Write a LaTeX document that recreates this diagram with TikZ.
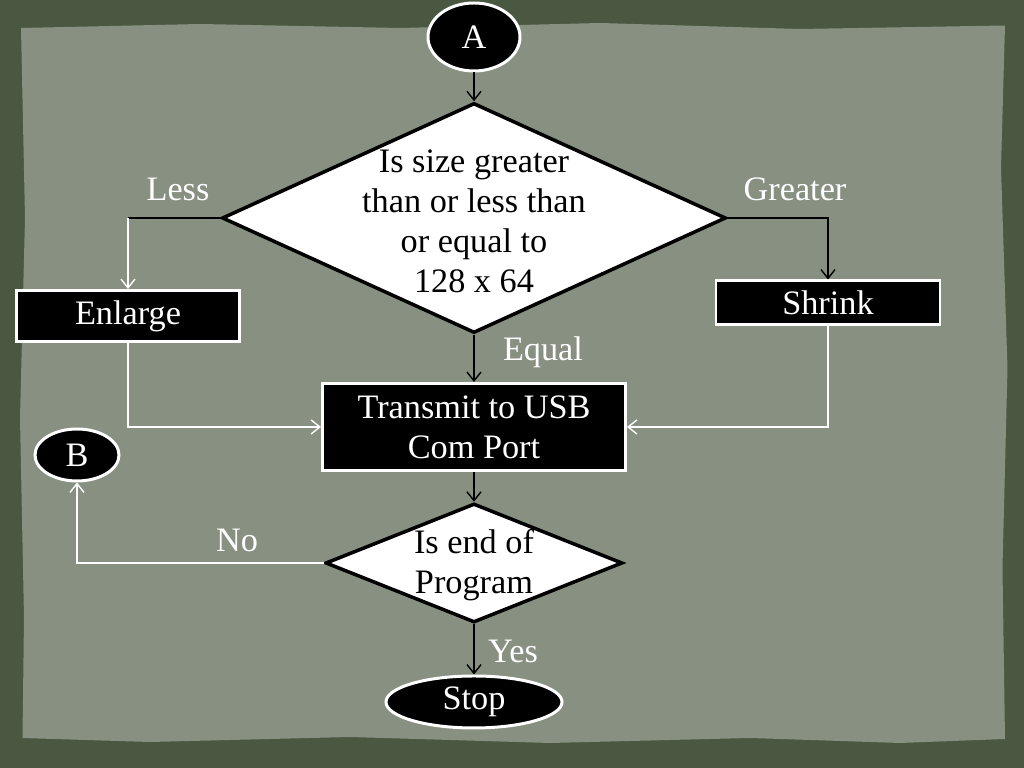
\documentclass[tikz,border=0pt]{standalone}
\usepackage{fontspec}
\setmainfont{Liberation Serif}
\usepackage{tikz}
\usetikzlibrary{shapes.geometric}
\usetikzlibrary{arrows.meta}
\definecolor{frame}{RGB}{74,88,66}
\definecolor{paper}{RGB}{136,144,130}
\tikzset{
	term node/.style={ellipse,draw=white,fill=black,line width=1.7pt,text=white,inner sep=0pt},
	proc node/.style={rectangle,draw=white,fill=black,line width=1.7pt,text=white,align=center},
	dec node/.style={diamond,draw=black,fill=white,line width=2pt,inner sep=0pt},
	dec text/.style={align=center,text=black},
	lbl/.style={text=white},
	wline/.style={draw=white,line width=0.8pt},
	bline/.style={draw=black,line width=0.8pt}
}

\begin{document}
\begin{tikzpicture}[>={Straight Barb[length=5pt,width=8pt]},
	    font=\fontsize{19.5}{22.8}\selectfont]
	    % background
	    \fill[frame] (0,0) rectangle (20.48,15.36);
	    \fill[paper] (0.45,0.6) -- (3,0.52) -- (7,0.62) -- (11,0.5) -- (15,0.6) -- (18,0.5) -- (20.1,0.58)
	      -- (20.05,4) -- (20.15,8) -- (20.02,12) -- (20.1,14.85) -- (16,14.78) -- (12,14.9) -- (8,14.8)
	      -- (4,14.88) -- (0.42,14.8) -- (0.5,11) -- (0.4,7) -- (0.48,3) -- cycle;
	    \useasboundingbox (0,0) rectangle (20.48,15.36);
	    % nodes
	    \node [term node,minimum width=1.84cm,minimum height=1.36cm] (A) at (9.48,14.62) {A};
	    \node [dec node,minimum width=10.08cm,minimum height=4.6cm] (size) at (9.48,11.00) {};
	    \node [dec text] (size text) at (9.48,10.94) {Is size greater\\than or less than\\or equal to\\128 x 64};
	    \node [proc node,minimum width=4.46cm,minimum height=1.02cm] (enlarge) at (2.56,9.04) {Enlarge};
	    \node [proc node,minimum width=4.48cm,minimum height=0.88cm] (shrink) at (16.56,9.30) {Shrink};
	    \node [proc node,minimum width=6.06cm,minimum height=1.74cm] (usb) at (9.48,6.82) {Transmit to USB\\Com Port};
	    \node [term node,minimum width=1.68cm,minimum height=1.04cm] (B) at (1.54,6.26) {B};
	    \node [dec node,minimum width=5.94cm,minimum height=2.38cm] (end) at (9.48,4.10) {};
	    \node [dec text] (end text) at (9.48,4.06) {Is end of\\Program};
	    \node [term node,minimum width=3.52cm,minimum height=1.04cm] (stop) at (9.48,1.32) {Stop};
	    % labels
	    \node [lbl] (less) at (3.56,11.58) {Less};
	    \node [lbl] (greater) at (15.9,11.58) {Greater};
	    \node [lbl] (equal) at (10.86,8.32) {Equal};
	    \node [lbl] (no) at (4.74,4.56) {No};
	    \node [lbl] (yes) at (10.26,2.34) {Yes};
	    % connectors
	    \coordinate (lessturn) at (size.west -| enlarge);
	    \coordinate (greaterturn) at (size.east -| shrink);
	    \draw [bline,->] (A) -- (size);
	    \draw [bline] (size.west) -- (lessturn);
	    \draw [wline,->] (lessturn) -- (enlarge);
	    \draw [bline,->] (size.east) -- (greaterturn) -- (shrink);
	    \draw [bline,->] (size) -- (usb);
	    \draw [wline,->] (enlarge) |- (usb);
	    \draw [wline,->] (shrink) |- (usb);
	    \draw [bline,->] (usb) -- (end);
	    \draw [wline,->] (end.west) -| (B);
	    \draw [bline,->] (end) -- (stop);
\end{tikzpicture}
\end{document}
